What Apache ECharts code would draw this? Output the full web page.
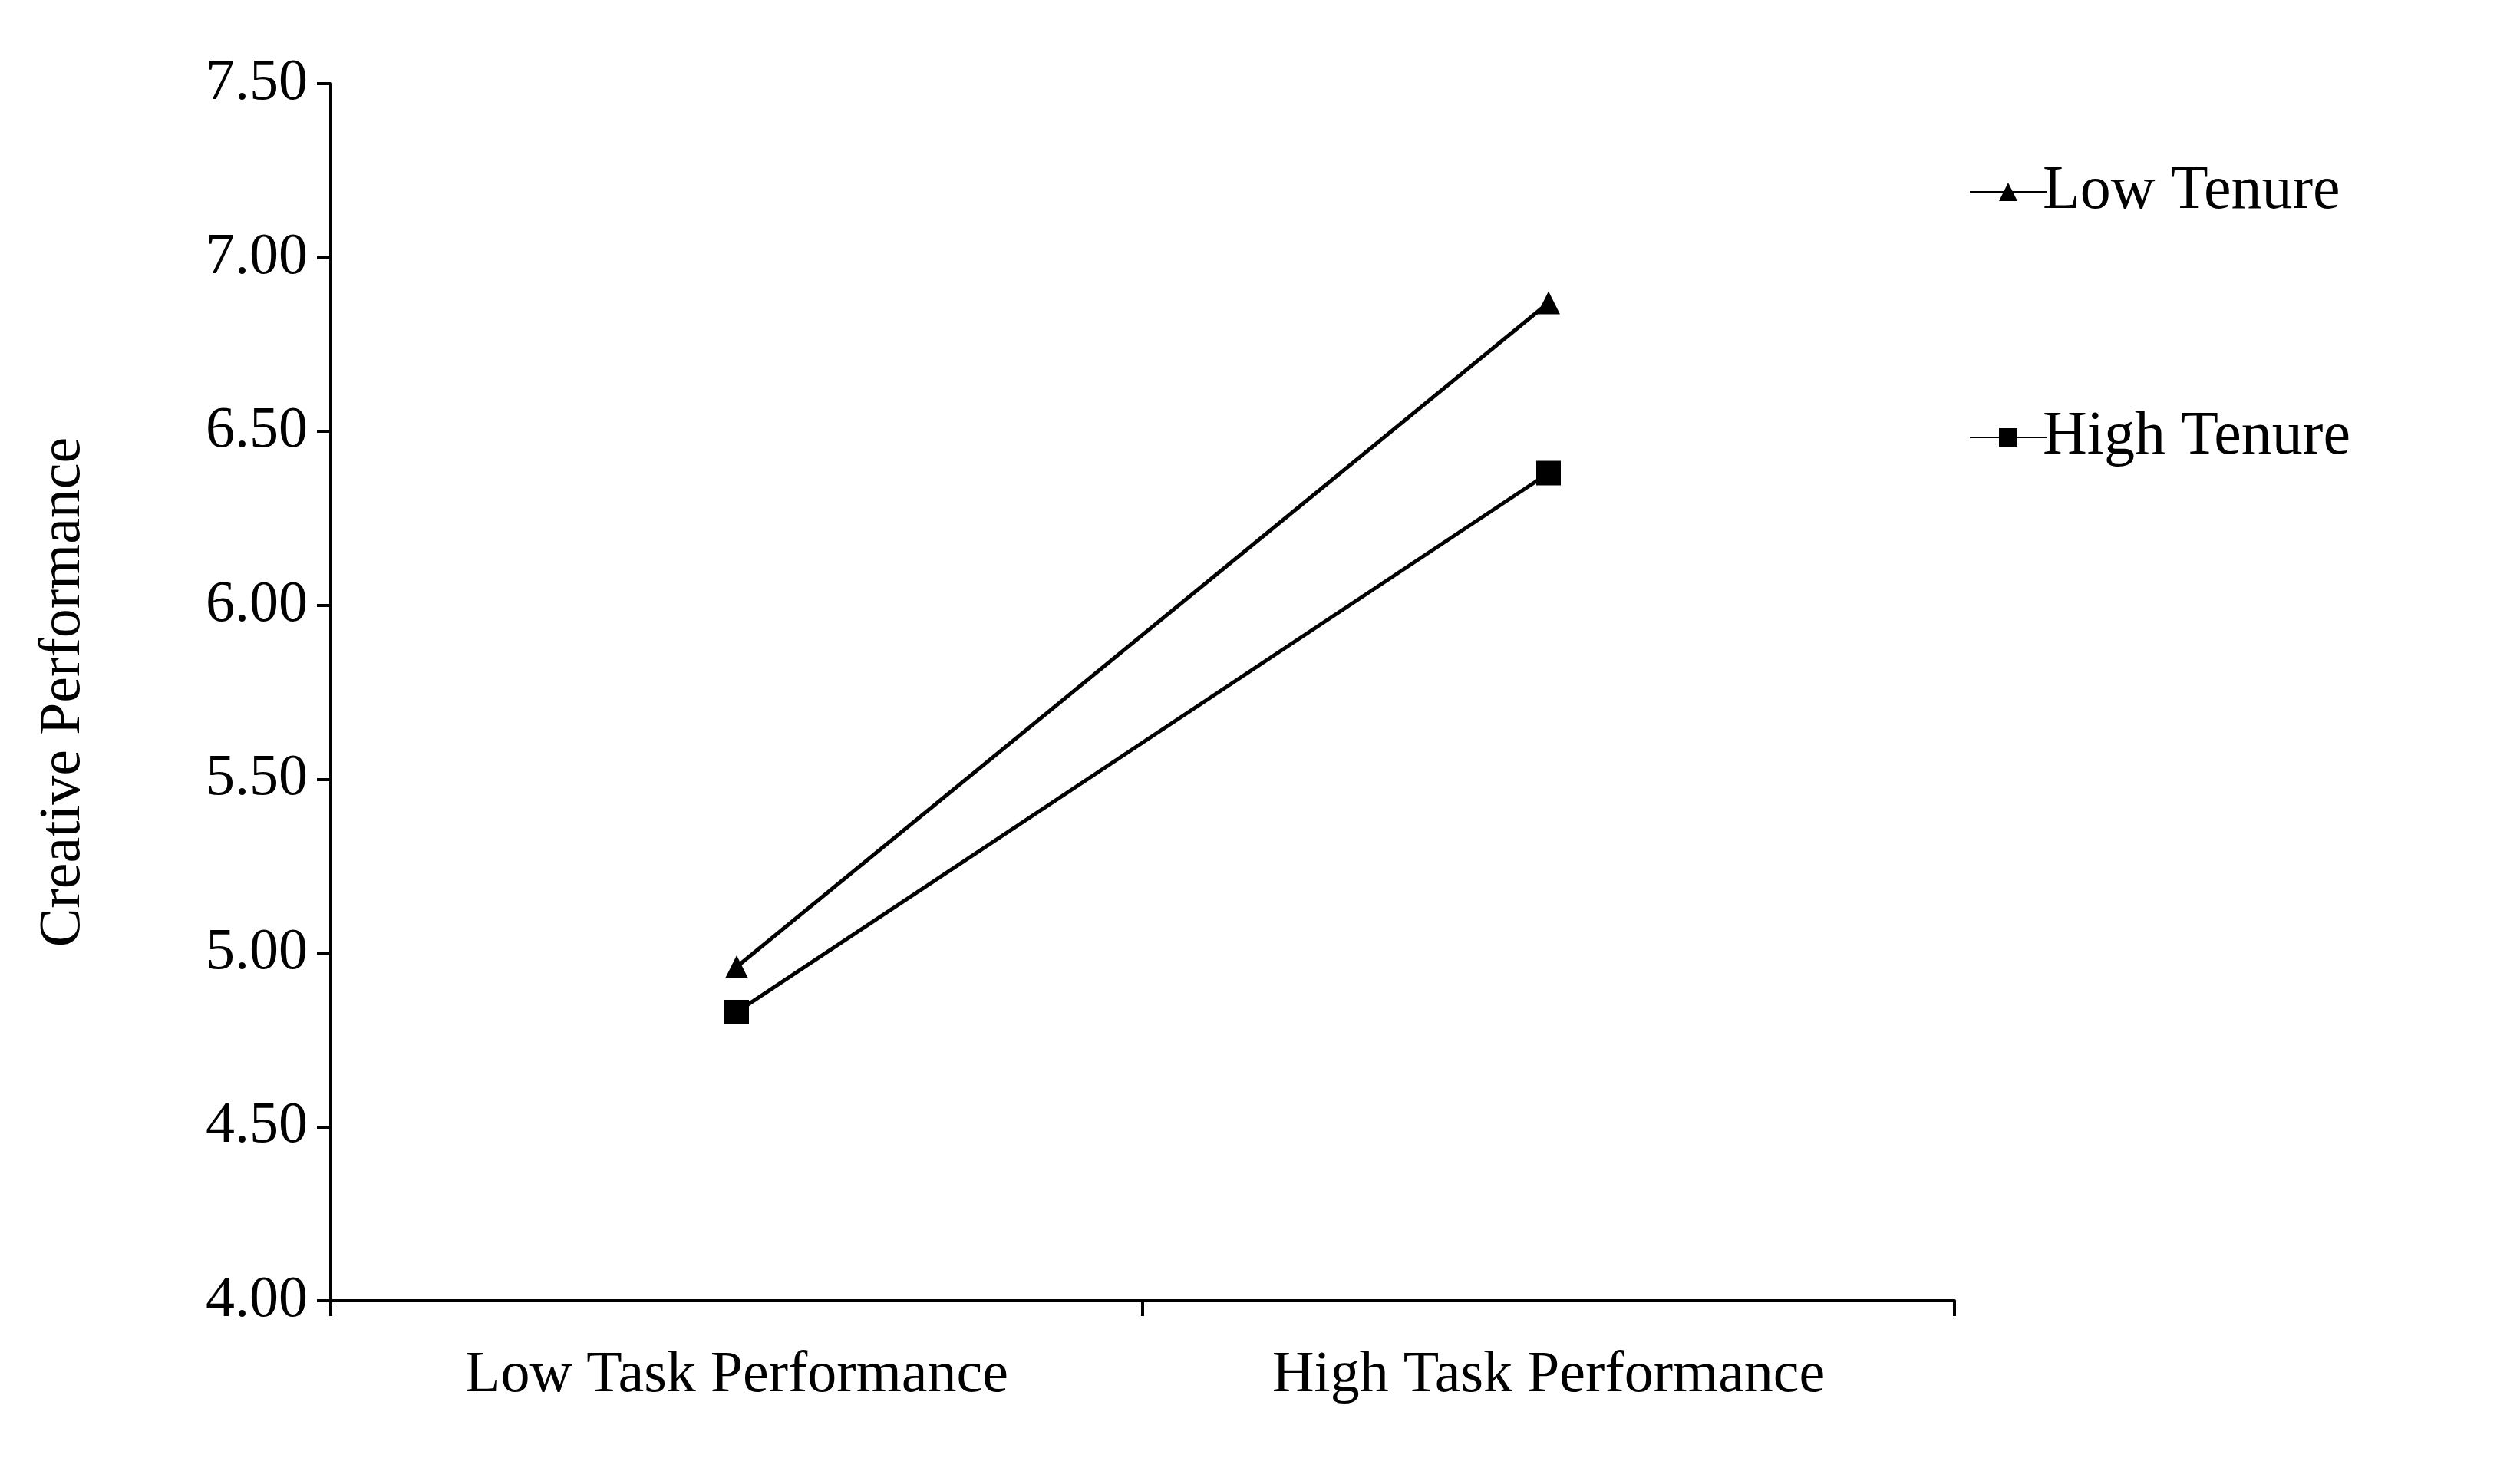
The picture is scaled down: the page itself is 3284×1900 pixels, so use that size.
<!DOCTYPE html>
<html><head><meta charset="utf-8">
<script src="https://cdn.jsdelivr.net/npm/echarts@6/dist/echarts.min.js"></script>
<style>html,body{margin:0;padding:0;background:#fff}#c{width:3284px;height:1900px}</style>
</head><body><div id="c"></div>
<script>
const categories = ["Low Task Performance", "High Task Performance"];
const lowTenure = [4.96, 6.87];
const highTenure = [4.83, 6.38];
const F = "Liberation Serif";
const chart = echarts.init(document.getElementById('c'));
chart.setOption({
  backgroundColor: '#fff',
  animation: false,
  grid: {left: 431, right: 737, top: 109, bottom: 205},
  legend: {
    right: 0, left: 2561, top: 205, orient: 'vertical', itemGap: 240,
    itemWidth: 100, itemHeight: 30,
    textStyle: {fontFamily: F, fontSize: 80, color: '#000', padding: [0,0,0,-10]},
    data: [{name: 'Low Tenure'}, {name: 'High Tenure'}]
  },
  xAxis: {
    type: 'category', data: categories, boundaryGap: true,
    axisLine: {lineStyle: {color: '#000', width: 4}},
    axisTick: {show: true, length: 20, lineStyle: {color: '#000', width: 4}},
    axisLabel: {fontFamily: F, fontSize: 76, color: '#000', margin: 60}
  },
  yAxis: {
    type: 'value', min: 4, max: 7.5, interval: 0.5,
    name: 'Creative Performance', nameLocation: 'middle', nameGap: 310,
    nameTextStyle: {fontFamily: F, fontSize: 76, color: '#000'},
    splitLine: {show: false},
    axisLine: {show: true, lineStyle: {color: '#000', width: 4}},
    axisTick: {show: true, length: 18, lineStyle: {color: '#000', width: 4}},
    axisLabel: {fontFamily: F, fontSize: 76, color: '#000', margin: 30,
      formatter: v => v.toFixed(2)}
  },
  series: [
    {name: 'Low Tenure', type: 'line', data: lowTenure, symbol: 'triangle', symbolSize: 30,
     lineStyle: {color: '#000', width: 5}, itemStyle: {color: '#000'}},
    {name: 'High Tenure', type: 'line', data: highTenure, symbol: 'rect', symbolSize: 32,
     lineStyle: {color: '#000', width: 5}, itemStyle: {color: '#000'}}
  ]
});
</script></body></html>
